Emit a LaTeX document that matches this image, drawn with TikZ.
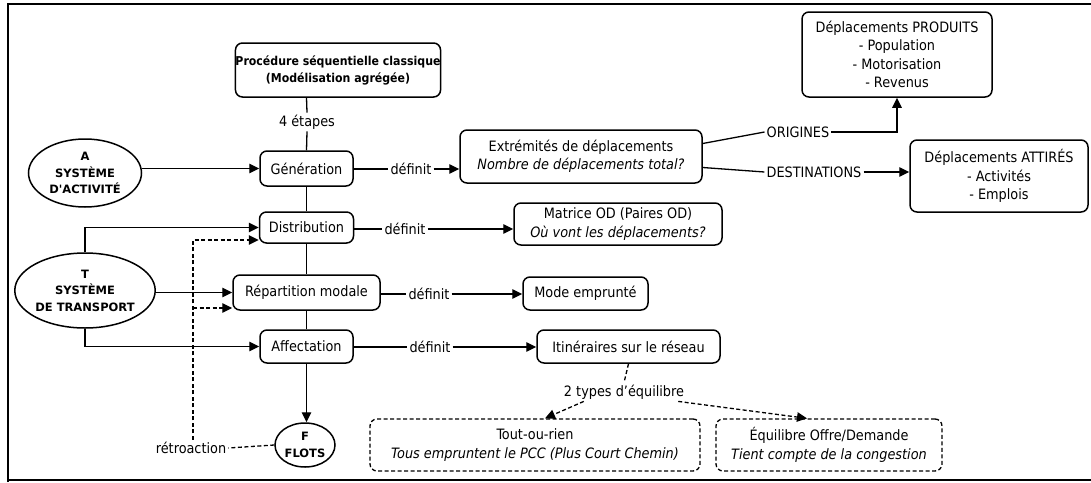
\documentclass[tikz,border=0pt]{standalone}
\usepackage{fontspec}
\setmainfont{DejaVu Sans Condensed}
\newfontfamily\sysfont{DejaVu Sans}
\usetikzlibrary{arrows.meta,shapes.geometric}

\tikzset{
  base/.style={font=\fontsize{14.3}{18.5}\selectfont, align=center, inner sep=0pt},
  stage/.style={base, draw, line width=1.5pt, rounded corners=7pt},
  result/.style={stage},
  choice/.style={base, draw, line width=1.3pt, rounded corners=7pt, dash pattern=on 4pt off 2.5pt},
  sys/.style={ellipse, draw, line width=1.5pt, inner sep=0pt, align=center,
              font=\sysfont\fontsize{11.5}{16.5}\selectfont\bfseries},
  lbl/.style={base, inner sep=2pt},
  link/.style={line width=1.3pt},
  arr/.style={link, -{Triangle[length=10pt,width=9.5pt]}},
  dasharr/.style={arr, dash pattern=on 4pt off 2.5pt},
  dashlink/.style={link, dash pattern=on 4pt off 2.5pt},
}

\begin{document}
\begin{tikzpicture}[x=1pt, y=-1pt]
  \useasboundingbox (0,0) rectangle (1091,482);

  % outer frame
  \draw[line width=2pt] (8,482) -- (8,4) -- (1091,4);
  \draw[line width=1.6pt] (8,480) -- (1091,480);

  % header
  \node[stage, minimum width=204pt, minimum height=54pt,
        font=\fontsize{12.2}{17}\selectfont\bfseries] (proc) at (338,70)
        {Procédure séquentielle classique\\(Modélisation agrégée)};
  \node[lbl] (etapes) at (307,122) {4 étapes};

  % the four stages
  \node[stage, minimum width=93pt, minimum height=35pt] (gen) at (306.5,168.5) {Génération};
  \node[stage, minimum width=94pt, minimum height=31pt] (dist) at (306.5,227.5) {Distribution};
  \node[stage, minimum width=147pt, minimum height=35pt] (rep) at (306.5,292.5) {Répartition modale};
  \node[stage, minimum width=93pt, minimum height=33pt] (aff) at (306.5,346.5) {Affectation};

  % systems
  \node[sys, minimum width=113pt, minimum height=68pt] (A) at (85,173) {A\\SYSTÈME\\D'ACTIVITÉ};
  \node[sys, minimum width=136pt, minimum height=75pt] (T) at (85,290.5) {T\\SYSTÈME\\DE TRANSPORT};
  \node[sys, minimum width=60pt, minimum height=44pt] (F) at (305,445) {F\\FLOTS};

  % results
  \node[result, minimum width=242pt, minimum height=53pt] (ext) at (581,156.5)
        {Extrémités de déplacements\\\textit{Nombre de déplacements total?}};
  \node[result, minimum width=208pt, minimum height=42pt] (mat) at (618,224)
        {Matrice OD (Paires OD)\\\textit{Où vont les déplacements?}};
  \node[result, minimum width=125pt, minimum height=33pt] (mode) at (585.5,293.5) {Mode emprunté};
  \node[result, minimum width=183pt, minimum height=33pt] (itin) at (628.5,346.5) {Itinéraires sur le réseau};
  \node[result, minimum width=190pt, minimum height=85pt] (prod) at (897,54.5)
        {Déplacements PRODUITS\\- Population\\- Motorisation\\- Revenus};
  \node[result, minimum width=178pt, minimum height=72pt] (attr) at (999,176)
        {Déplacements ATTIRÉS\\- Activités\\- Emplois};

  % equilibrium types
  \node[choice, minimum width=330pt, minimum height=52pt] (tor) at (535,445)
        {Tout-ou-rien\\\textit{Tous empruntent le PCC (Plus Court Chemin)}};
  \node[choice, minimum width=226pt, minimum height=52pt] (equ) at (829,445)
        {Équilibre Offre/Demande\\\textit{Tient compte de la congestion}};

  % labels on links
  \node[lbl] (def1) at (411,169) {définit};
  \node[lbl] (def2) at (405,229) {définit};
  \node[lbl] (def3) at (429,294) {définit};
  \node[lbl] (def4) at (430,347) {définit};
  \node[lbl] (ori) at (798,132) {ORIGINES};
  \node[lbl] (dst) at (814,172) {DESTINATIONS};
  \node[lbl] (types) at (624,392) {2 types d'équilibre};
  \node[lbl] (retro) at (191,448) {rétroaction};

  % main spine
  \draw[link] (gen.north |- proc.south) -- (etapes.north);
  \draw[link] (etapes.south) -- (gen.north);
  \draw[link] (gen.south) -- (dist.north);
  \draw[link] (dist.south) -- (rep.north);
  \draw[link] (rep.south) -- (aff.north);
  \draw[arr] (aff.south) -- (F.north -| aff.south);

  % inputs from the systems
  \draw[arr] (A.east |- gen.west) -- (gen.west);
  \draw[arr] (T.north) |- (dist.west);
  \draw[arr] (T.east |- rep.west) -- (rep.west);
  \draw[arr] (T.south) |- (aff.west);

  % feedback
  \coordinate (fbtop) at (193,240);
  \coordinate (fbmid) at (193,308);
  \draw[dashlink] (F.west) -- (retro.east);
  \draw[dasharr] (retro.north -| fbtop) -- (fbtop) -- (fbtop -| dist.west);
  \draw[dasharr] (fbmid) -- (fbmid -| rep.west);

  % what each stage defines
  \draw[link] (gen.east |- def1) -- (def1.west);
  \draw[arr] (def1.east) -- (def1.east -| ext.west);
  \draw[link] (dist.east |- def2) -- (def2.west);
  \draw[arr] (def2.east) -- (def2.east -| mat.west);
  \draw[link] (rep.east |- def3) -- (def3.west);
  \draw[arr] (def3.east) -- (def3.east -| mode.west);
  \draw[link] (aff.east |- def4) -- (def4.west);
  \draw[arr] (def4.east) -- (def4.east -| itin.west);

  % trip ends
  \draw[link] ([yshift=13pt]ext.east) -- (ori.west);
  \draw[arr] (ori.east) -| (prod.south);
  \draw[link] ([yshift=-11pt]ext.east) -- (dst.west);
  \draw[arr] (dst.east) -- (dst.east -| attr.west);

  % equilibrium types
  \draw[dashlink] (itin.south) -- (types.north);
  \draw[dasharr] ([xshift=22pt]types.south west) -- ([xshift=10pt]tor.north);
  \draw[dasharr] ([xshift=-8pt]types.south east) -- ([xshift=-22pt]equ.north);
\end{tikzpicture}
\end{document}
